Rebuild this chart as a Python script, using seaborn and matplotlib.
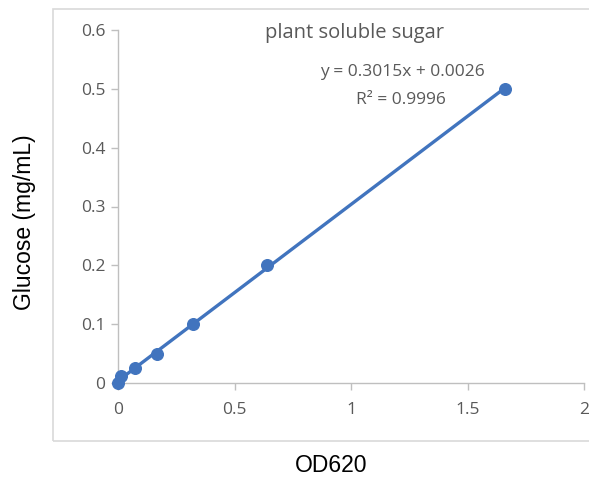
import matplotlib
matplotlib.use("Agg")
import matplotlib.pyplot as plt
import seaborn as sns
import pandas as pd
from matplotlib.patches import Rectangle

od620 = [0.0, 0.013, 0.074, 0.166, 0.322, 0.64, 1.66]
glucose = [0.0, 0.0125, 0.025, 0.05, 0.1, 0.2, 0.5]
x_ticks = [0, 0.5, 1, 1.5, 2]
x_tick_labels = ["0", "0.5", "1", "1.5", "2"]
y_ticks = [0, 0.1, 0.2, 0.3, 0.4, 0.5, 0.6]
y_tick_labels = ["0", "0.1", "0.2", "0.3", "0.4", "0.5", "0.6"]
title = "plant soluble sugar"
equation_line = "y = 0.3015x + 0.0026"
r2_line = "R² = 0.9996"

sns.set_theme(style="white")
plt.rcParams['font.family'] = ['Open Sans', 'DejaVu Sans']

df = pd.DataFrame({"OD620": od620, "Glucose": glucose})

fig = plt.figure(figsize=(5.89, 4.79), dpi=100)
# chart area border
fig.patches.append(Rectangle((53 / 589, 1 - 441 / 479), 1.0, (441 - 9) / 479,
                             transform=fig.transFigure, fill=False,
                             edgecolor="#d9d9d9", linewidth=1.2))

ax = fig.add_axes([118 / 589, 1 - 383 / 479, (584 - 118) / 589, (383 - 30) / 479])
blue = "#4174BE"
sns.regplot(data=df, x="OD620", y="Glucose", ax=ax, ci=None, truncate=True,
            scatter_kws=dict(s=70, color=blue, edgecolor=blue, alpha=1, zorder=3,
                             clip_on=False),
            line_kws=dict(color=blue, linewidth=2.4, zorder=2, clip_on=False))

ax.set_xlim(0, 2)
ax.set_ylim(0, 0.6)
ax.set_xticks(x_ticks)
ax.set_xticklabels(x_tick_labels)
ax.set_yticks(y_ticks)
ax.set_yticklabels(y_tick_labels)
ax.set_xlabel("")
ax.set_ylabel("")
for s in ["top", "right"]:
    ax.spines[s].set_visible(False)
for s in ["left", "bottom"]:
    ax.spines[s].set_color("#bfbfbf")
    ax.spines[s].set_linewidth(1.0)
ax.tick_params(axis="x", which="major", direction="out", length=5, width=1,
               color="#bfbfbf", labelcolor="#595959", labelsize=12.5, pad=9,
               bottom=True)
ax.tick_params(axis="y", which="major", direction="out", length=5, width=1,
               color="#bfbfbf", labelcolor="#595959", labelsize=12.5, pad=4,
               left=True)
ax.patch.set_alpha(0)

ax.text(0.507, 0.9915, title, transform=ax.transAxes, ha="center", va="center",
        fontsize=14.5, color="#595959")
ax.text(0.611, 0.881, equation_line, transform=ax.transAxes, ha="center", va="center",
        fontsize=12.5, color="#595959")
ax.text(0.608, 0.802, r2_line, transform=ax.transAxes, ha="center", va="center",
        fontsize=12.5, color="#595959")

fig.text(331 / 589, 1 - 466 / 479, "OD620", ha="center", va="center",
         fontsize=16.5, family="Liberation Sans", color="black")
fig.text(25 / 589, 1 - 222 / 479, "Glucose (mg/mL)", ha="center", va="center",
         rotation=90, fontsize=16.5, family="Liberation Sans", color="black")

fig.savefig("out.png", dpi=100)
